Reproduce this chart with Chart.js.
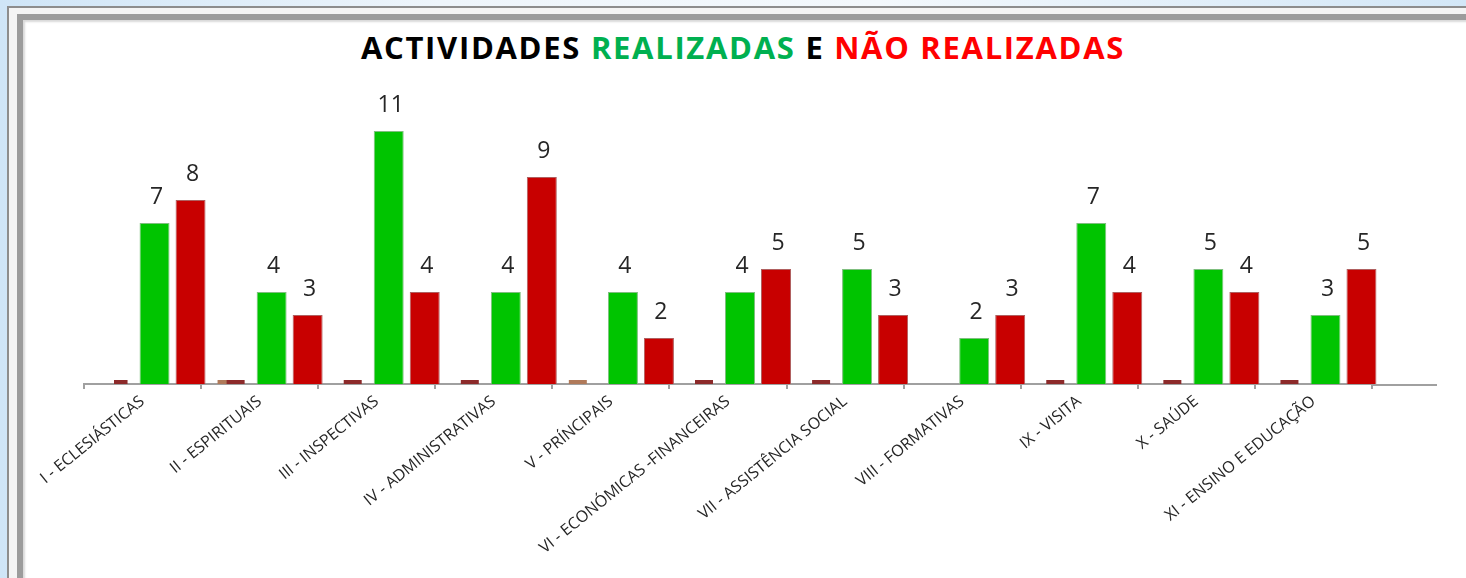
<!DOCTYPE html>
<html>
<head>
<meta charset="utf-8">
<script src="https://cdn.jsdelivr.net/npm/chart.js@4/dist/chart.umd.min.js"></script>
<style>
  html, body { margin: 0; padding: 0; }
  body {
    width: 1466px; height: 578px; overflow: hidden; position: relative;
    background: linear-gradient(90deg, #cfe5f7 0%, #eef5fb 30%, #f3f8fc 60%, #d3e7f7 100%);
  }
  #outer {
    position: absolute; left: 7px; top: 6px; width: 1470px; height: 580px;
    border-left: 2px solid #8d8d8d; border-top: 2px solid #8d8d8d;
    background: #f4f4f4;
  }
  #inner {
    position: absolute; left: 17px; top: 14px; width: 1460px; height: 570px;
    border-left: 6px solid #9c9c9c; border-top: 6px solid #9c9c9c;
    box-shadow: inset 2px 2px 2px rgba(0,0,0,0.15);
    background: #fff;
  }
  #title {
    position: absolute; left: 0; top: 29px; width: 1486px; text-align: center;
    font: bold 31px "Open Sans", Lato, sans-serif; color: #000; line-height: 36px;
    letter-spacing: 1.7px;
  }
  #title .g { color: #00b050; }
  #title .r { color: #ff0000; }
  canvas { position: absolute; left: 0; top: 0; }
</style>
</head>
<body>
<div id="outer"></div>
<div id="inner"></div>
<div id="title">ACTIVIDADES <span class="g">REALIZADAS</span> E <span class="r">NÃO REALIZADAS</span></div>
<canvas id="c" width="1466" height="578"></canvas>
<script>
// categorias
var labels = [
  'I - ECLESIÁSTICAS', 'II - ESPIRITUAIS', 'III - INSPECTIVAS', 'IV - ADMINISTRATIVAS',
  'V - PRÍNCIPAIS', 'VI - ECONÓMICAS -FINANCEIRAS', 'VII - ASSISTÊNCIA SOCIAL',
  'VIII - FORMATIVAS', 'IX - VISITA', 'X - SAÚDE', 'XI - ENSINO E EDUCAÇÃO'
];
// séries
var realizadas    = [7, 4, 11, 4, 4, 4, 5, 2, 7, 5, 3];
var naoRealizadas = [8, 3, 4, 9, 2, 5, 3, 3, 4, 4, 5];
// barras a zero que aparecem como lascas
var zeroEsq = [0, 0, 0, 0, null, 0, 0, null, 0, 0, 0];
var zeroDir = [0, null, null, 0, null, null, null, null, null, null, null];

// profundidade: as barras ficam desviadas do eixo, como no grafico 3D original
var depth = {
  id: 'depth',
  beforeDatasetsDraw: function (chart) {
    var ctx = chart.ctx, a = chart.chartArea;
    // o eixo continua um pouco para a direita
    ctx.save();
    ctx.strokeStyle = '#a0a0a0';
    ctx.lineWidth = 2;
    ctx.beginPath();
    ctx.moveTo(a.right, a.bottom + 1);
    ctx.lineTo(a.right + 65, a.bottom + 1);
    ctx.stroke();
    ctx.restore();
    ctx.save();
    ctx.translate(30, 0);
  },
  afterDatasetsDraw: function (chart) {
    var ctx = chart.ctx;
    ctx.font = '23px "Open Sans", Lato, sans-serif';
    ctx.fillStyle = '#262626';
    ctx.textAlign = 'center';
    ctx.textBaseline = 'middle';
    [1, 2].forEach(function (i) {
      var meta = chart.getDatasetMeta(i);
      meta.data.forEach(function (bar, j) {
        ctx.fillText(chart.data.datasets[i].data[j], bar.x + 2, bar.y - 26);
      });
    });
    ctx.restore();
  }
};

var chart = new Chart(document.getElementById('c'), {
  type: 'bar',
  data: {
    labels: labels,
    datasets: [
      { data: zeroEsq, backgroundColor: '#8c2a2a', minBarLength: 4, barPercentage: 0.5 },
      { data: realizadas, backgroundColor: '#00c400', borderColor: '#7fbf7f', borderWidth: 1 },
      { data: naoRealizadas, backgroundColor: '#c80000', borderColor: '#b06060', borderWidth: 1 },
      { data: zeroDir, backgroundColor: '#b07a5a', minBarLength: 4, barPercentage: 0.5 }
    ]
  },
  options: {
    responsive: false,
    animation: false,
    events: [],
    categoryPercentage: 1.23,
    barPercentage: 0.833,
    layout: { padding: { left: 84, right: 94, top: 108, bottom: 0 } },
    plugins: {
      legend: { display: false },
      tooltip: { enabled: false }
    },
    scales: {
      x: {
        grid: { display: true, drawOnChartArea: false, drawTicks: true, tickLength: 5, color: '#a0a0a0', lineWidth: 2, offset: true },
        border: { display: true, color: '#a0a0a0', width: 2 },
        ticks: {
          autoSkip: false, minRotation: 39, maxRotation: 39, padding: 3,
          color: '#262626', font: { family: '"Open Sans", Lato, sans-serif', size: 16 }
        },
        afterFit: function (scale) { scale.height = 194; }
      },
      y: {
        display: false, min: 0, max: 12
      }
    }
  },
  plugins: [depth]
});
</script>
</body>
</html>
